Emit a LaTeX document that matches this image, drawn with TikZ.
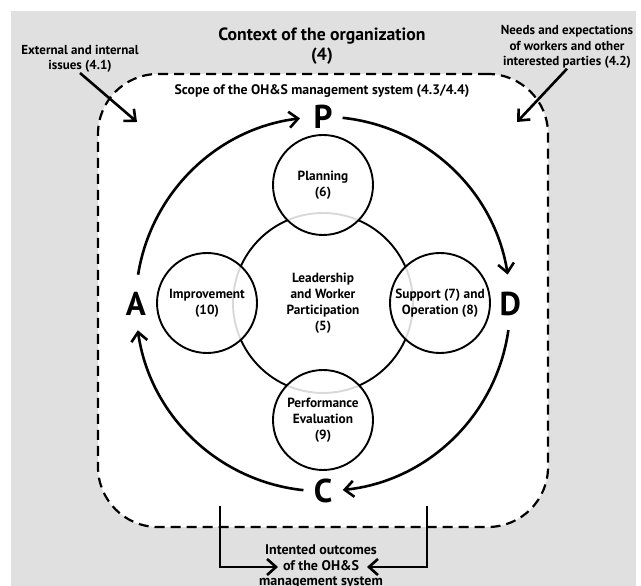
\documentclass[tikz,border=0pt]{standalone}
\usepackage{fontspec}
\setmainfont{PT Sans}
\usetikzlibrary{arrows.meta, positioning}

\definecolor{bggray}{HTML}{E0E0E0}

\begin{document}
\begin{tikzpicture}[x=1pt, y=1pt,
    txt/.style={font=\bfseries\fontsize{13}{15.5}\selectfont, align=center, inner sep=0pt},
    ring/.style={circle, draw, line width=1.9pt, minimum size=100pt, inner sep=0pt, fill=white, fill opacity=0.85, text opacity=1, font=\bfseries\fontsize{13.3}{16}\selectfont, align=center},
    letter/.style={font=\bfseries\fontsize{33}{33}\selectfont, inner sep=0pt},
    arrow/.style={line width=2.6pt, -{Straight Barb[length=9pt, width=16pt, line width=2.6pt]}}]
    \path[use as bounding box, clip] (0,0) rectangle (641,586);
    \fill[bggray] (11,0) rectangle (636,575);
    % scope of the system
    \node [draw, line width=2.2pt, dash pattern=on 10pt off 6pt, rounded corners=60pt, fill=white,
           minimum width=450pt, minimum height=453pt] (scope) at (323,285.5) {};
    \node [txt, font=\bfseries\fontsize{17.7}{20}\selectfont] (context) at (322,540) {Context of the organization\\(4)};
    \node [txt] (ext) at (80,527) {External and internal\\issues (4.1)};
    \node [txt] (needs) at (567,539) {Needs and expectations\\of workers and other\\interested parties (4.2)};
    \node [txt, font=\bfseries\fontsize{13.8}{16}\selectfont] (scopetxt) at (322,495) {Scope of the OH\&S management system (4.3/4.4)};
    \coordinate (exttip) at (137,464);
    \coordinate (needstip) at (517,464);
    \draw [arrow] (ext.south) -- (exttip);
    \draw [arrow] (needs.south) -- (needstip);
    % PDCA cycle
    \node [circle, minimum size=374pt, inner sep=0pt] (cycle) at (323,282) {};
    \node [letter] (P) at (cycle.90) {P};
    \node [letter] (D) at (cycle.0) {D};
    \node [letter] (C) at (cycle.270) {C};
    \node [letter] (A) at (cycle.180) {A};
    \draw [arrow] (cycle.171) arc[start angle=171, end angle=97, radius=187pt];
    \draw [arrow] (cycle.84) arc[start angle=84, end angle=9, radius=187pt];
    \draw [arrow] (cycle.-8) arc[start angle=-8, end angle=-84, radius=187pt];
    \draw [arrow] (cycle.-96) arc[start angle=-96, end angle=-172, radius=187pt];
    % clauses
    \node [circle, draw, line width=1.9pt, minimum size=180pt, inner sep=0pt, font=\bfseries\fontsize{13.3}{16}\selectfont, align=center]
          (lead) at (323,283) {Leadership\\and Worker\\Participation\\(5)};
    \node [ring] (plan) at (323,401) {Planning\\(6)};
    \node [ring] (supp) at (440,283) {Support (7) and\\Operation (8)};
    \node [ring] (perf) at (323,166) {Performance\\Evaluation\\(9)};
    \node [ring] (impr) at (207,283) {Improvement\\(10)};
    % intended outcomes
    \node [txt, font=\bfseries\fontsize{14}{15.5}\selectfont] (outcome) at (321,19) {Intented outcomes\\of the OH\&S\\management system};
    \coordinate (outL) at (220,80);
    \coordinate (outR) at (427,80);
    \draw [arrow] (outL) |- ([xshift=-43pt]outcome.center);
    \draw [arrow] (outR) |- ([xshift=46pt]outcome.center);
\end{tikzpicture}
\end{document}
